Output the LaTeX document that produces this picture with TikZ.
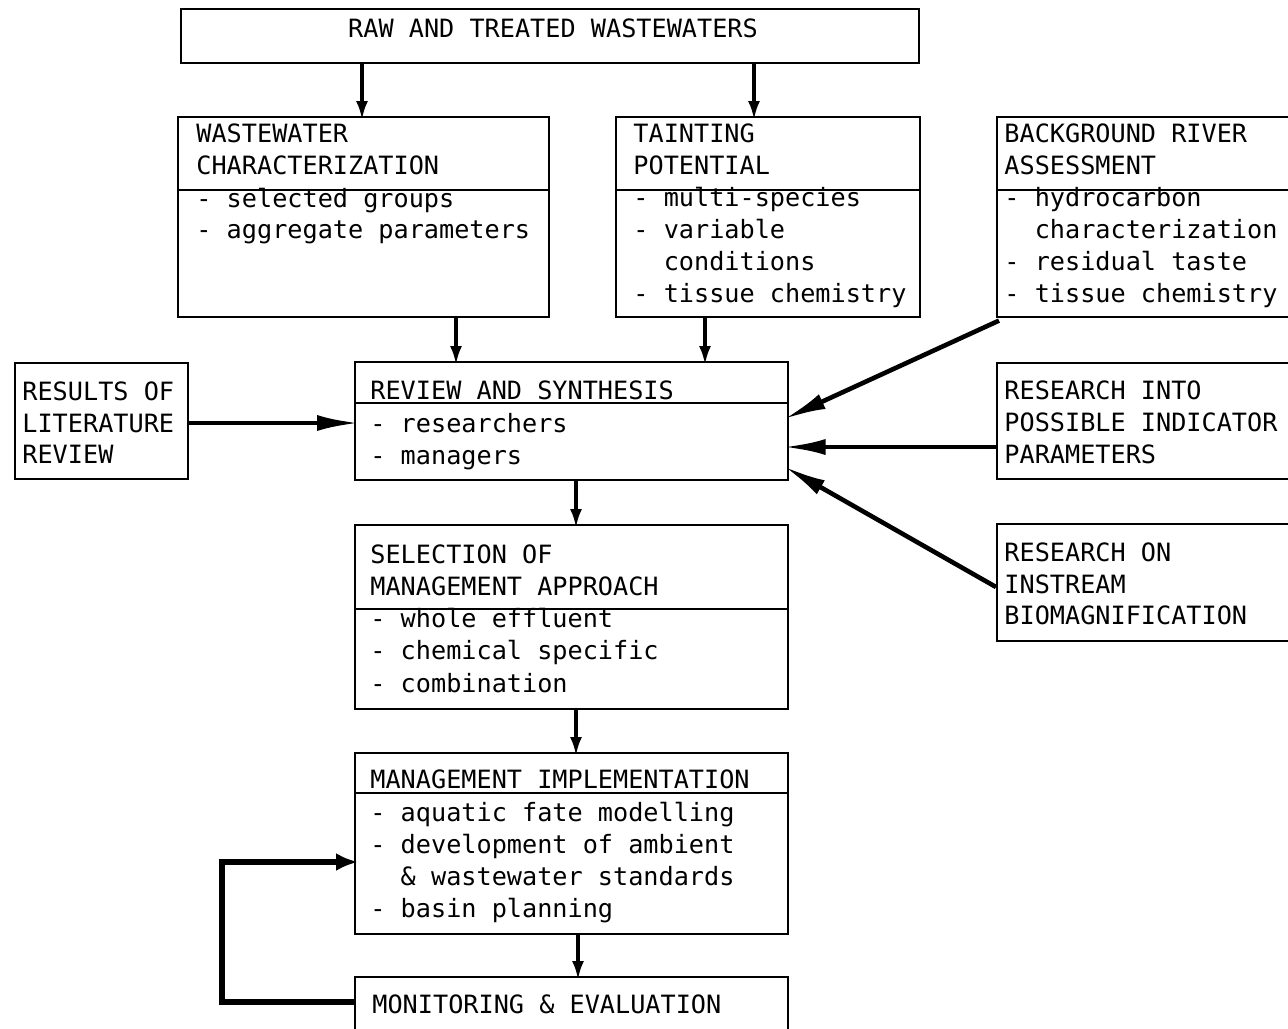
\documentclass[tikz,border=0pt]{standalone}
\usepackage{fontspec}
\setmonofont{DejaVu Sans Mono}
\usetikzlibrary{arrows.meta,calc}
\tikzset{
  box/.style={draw, line width=0.8pt, rectangle, anchor=north west, inner sep=0pt},
  lbl/.style={anchor=base west, inner sep=0pt, font=\fontsize{12.6}{15}\ttfamily},
  divider/.style={line width=0.8pt},
  varrow/.style={line width=1.8pt, shorten >=-2pt, -{Latex[length=9.5pt,width=6pt]}},
  harrow/.style={line width=2.3pt, shorten >=-2.5pt, -{Latex[length=21pt,width=8pt]}},
  farrow/.style={line width=3pt, shorten >=-2pt, -{Latex[length=11pt,width=9pt]}},
}
\newcommand{\bx}[5]{\node[box, minimum width={(#4-#2)*0.5pt}, minimum height={(#5-#3)*0.5pt}] (#1) at (#2,#3) {};}
\newcommand{\tx}[4]{\node[lbl] (#1) at (#2,#3) {#4};}
\begin{document}
\begin{tikzpicture}[x=0.5pt,y=-0.5pt]
\path[use as bounding box] (0,0) rectangle (1288,1028);
\clip (0,0) rectangle (1288,1028);
\fill[white] (0,0) rectangle (1288,1028);

% boxes
\bx{raw}{180}{8}{918}{62}
\bx{ww}{177}{116}{548}{316}
\bx{tp}{615}{116}{919}{316}
\bx{bg}{996}{116}{1295}{316}
\bx{lit}{14}{362}{187}{478}
\bx{rev}{354}{361}{787}{479}
\bx{ind}{996}{362}{1295}{478}
\bx{bio}{996}{523}{1295}{640}
\bx{sel}{354}{524}{787}{708}
\bx{imp}{354}{752}{787}{933}
\bx{mon}{354}{976}{787}{1045}

% dividers
\draw[divider] (ww.west |- 0,190) -- (ww.east |- 0,190);
\draw[divider] (tp.west |- 0,190) -- (tp.east |- 0,190);
\draw[divider] (bg.west |- 0,190) -- (bg.east |- 0,190);
\draw[divider] (rev.west |- 0,403) -- (rev.east |- 0,403);
\draw[divider] (sel.west |- 0,609) -- (sel.east |- 0,609);
\draw[divider] (imp.west |- 0,793) -- (imp.east |- 0,793);

% texts
\node[lbl, anchor=base] (rawt) at (553,37) {RAW AND TREATED WASTEWATERS};

\tx{ww1}{196}{142}{WASTEWATER}
\tx{ww2}{196}{174}{CHARACTERIZATION}
\tx{ww3}{196}{207}{- selected groups}
\tx{ww4}{196}{238}{- aggregate parameters}

\tx{tp1}{633}{142}{TAINTING}
\tx{tp2}{633}{174}{POTENTIAL}
\tx{tp3}{633}{206}{- multi-species}
\tx{tp4}{633}{238}{- variable}
\tx{tp5}{633}{270}{\ \ conditions}
\tx{tp6}{633}{302}{- tissue chemistry}

\tx{bg1}{1004}{142}{BACKGROUND RIVER}
\tx{bg2}{1004}{174}{ASSESSMENT}
\tx{bg3}{1004}{206}{- hydrocarbon}
\tx{bg4}{1004}{238}{\ \ characterization}
\tx{bg5}{1004}{270}{- residual taste}
\tx{bg6}{1004}{302}{- tissue chemistry}

\tx{lit1}{22}{400}{RESULTS OF}
\tx{lit2}{22}{432}{LITERATURE}
\tx{lit3}{22}{463}{REVIEW}

\tx{rev1}{370}{399}{REVIEW AND SYNTHESIS}
\tx{rev2}{370}{432}{- researchers}
\tx{rev3}{370}{464}{- managers}

\tx{ind1}{1004}{399}{RESEARCH INTO}
\tx{ind2}{1004}{431}{POSSIBLE INDICATOR}
\tx{ind3}{1004}{463}{PARAMETERS}

\tx{bio1}{1004}{561}{RESEARCH ON}
\tx{bio2}{1004}{593}{INSTREAM}
\tx{bio3}{1004}{624}{BIOMAGNIFICATION}

\tx{sel1}{370}{563}{SELECTION OF}
\tx{sel2}{370}{595}{MANAGEMENT APPROACH}
\tx{sel3}{370}{627}{- whole effluent}
\tx{sel4}{370}{659}{- chemical specific}
\tx{sel5}{370}{692}{- combination}

\tx{imp1}{370}{788}{MANAGEMENT IMPLEMENTATION}
\tx{imp2}{370}{821}{- aquatic fate modelling}
\tx{imp3}{370}{853}{- development of ambient}
\tx{imp4}{370}{885}{\ \ \& wastewater standards}
\tx{imp5}{370}{917}{- basin planning}

\tx{mon1}{372}{1013}{MONITORING \& EVALUATION}

% connectors
\draw[varrow] (362,0 |- raw.south) -- (362,0 |- ww.north);
\draw[varrow] (754,0 |- raw.south) -- (754,0 |- tp.north);
\draw[varrow] (456,0 |- ww.south) -- (456,0 |- rev.north);
\draw[varrow] (705,0 |- tp.south) -- (705,0 |- rev.north);
\draw[harrow] (lit.east |- 0,423) -- (rev.west |- 0,423);
\draw[harrow] ($(bg.south west)+(3,3)$) -- (rev.east |- 0,417);
\draw[harrow] (ind.west |- 0,447) -- (rev.east |- 0,447);
\draw[harrow] (bio.west |- 0,587) -- (rev.east |- 0,469);
\draw[varrow] (576,0 |- rev.south) -- (576,0 |- sel.north);
\draw[varrow] (576,0 |- sel.south) -- (576,0 |- imp.north);
\draw[varrow] (578,0 |- imp.south) -- (578,0 |- mon.north);
\coordinate (fb1) at (222,1002);
\coordinate (fb2) at (222,862);
\draw[farrow] (mon.west |- fb1) -- (fb1) -- (fb2) -- (imp.west |- fb2);
\end{tikzpicture}
\end{document}
